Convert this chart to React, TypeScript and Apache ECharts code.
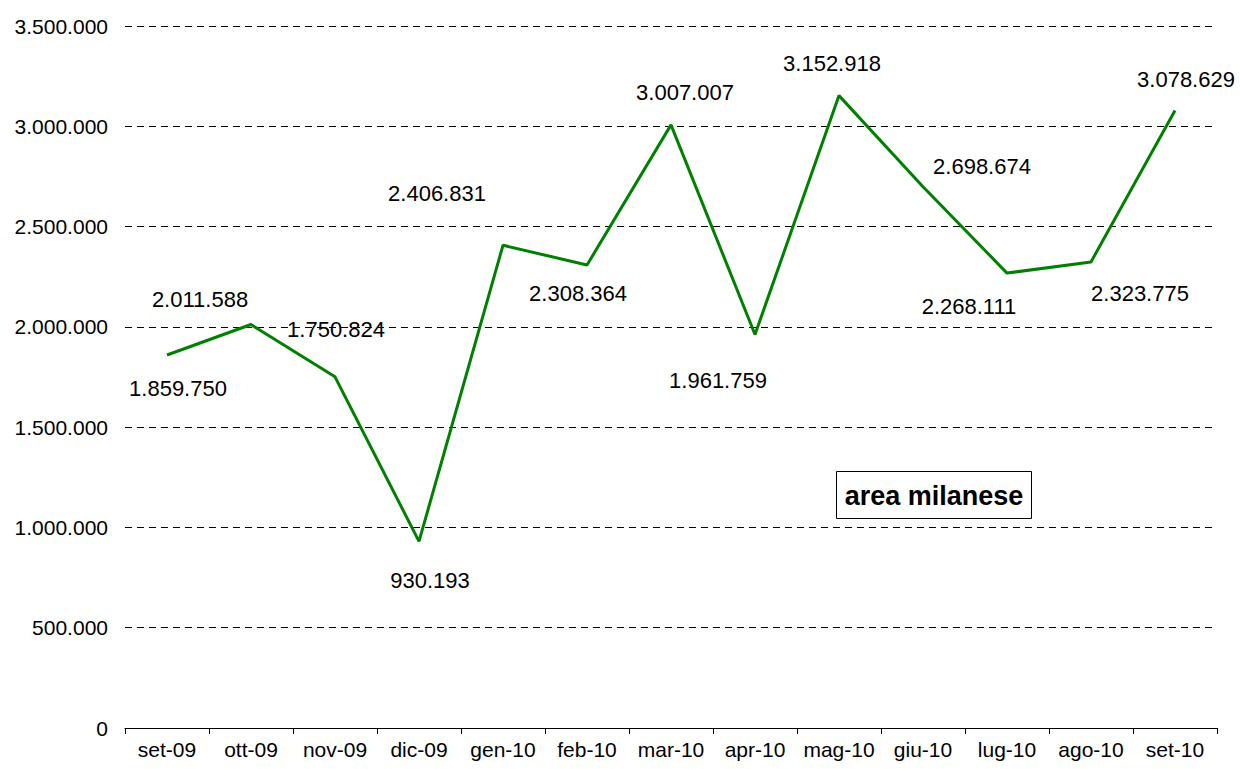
import React, { useEffect, useRef } from "react";
import * as echarts from "echarts";

const categories = ["set-09", "ott-09", "nov-09", "dic-09", "gen-10", "feb-10", "mar-10", "apr-10", "mag-10", "giu-10", "lug-10", "ago-10", "set-10"];
const values = [1859750, 2011588, 1750824, 930193, 2406831, 2308364, 3007007, 1961759, 3152918, 2698674, 2268111, 2323775, 3078629];
const labelOffsets: [number, number][] = [
  [11, 34], [-51, -25], [1, -47], [11, 39], [-66, -52], [-9, 28], [14, -32],
  [-37, 46], [-7, -32], [59, -20], [-38, 33], [49, 32], [11, -31],
];
const legendTitle = "area milanese";

const fmt = (v: number) => v.toLocaleString("de-DE");
const FONT = "'Liberation Sans', Arial, sans-serif";

export default function App() {
  const ref = useRef<HTMLDivElement>(null);
  useEffect(() => {
    if (!ref.current) return;
    const chart = echarts.init(ref.current, undefined, { renderer: "svg" });
    chart.setOption({
      animation: false,
      backgroundColor: "#ffffff",
      textStyle: { fontFamily: FONT },
      grid: { left: 125, right: 23, top: 26, bottom: 41, containLabel: false },
      xAxis: {
        type: "category",
        data: categories,
        boundaryGap: true,
        axisLine: { show: true, lineStyle: { color: "#000", width: 1 } },
        axisTick: { show: true, length: 6, lineStyle: { color: "#000" } },
        axisLabel: { color: "#000", fontSize: 21, fontFamily: FONT, margin: 11, interval: 0 },
        splitLine: { show: false },
      },
      yAxis: {
        type: "value",
        min: 0,
        max: 3500000,
        interval: 500000,
        axisLine: { show: false },
        axisTick: { show: false },
        axisLabel: { color: "#000", fontSize: 21, fontFamily: FONT, margin: 17, formatter: (v: number) => fmt(v) },
        splitLine: { show: true, lineStyle: { color: "#000", width: 1, type: [7, 5] } },
      },
      series: [
        {
          type: "line",
          data: values.map((v, i) => ({
            value: v,
            label: { offset: labelOffsets[i] },
          })),
          symbol: "circle",
          symbolSize: 1,
          itemStyle: { color: "rgba(0,0,0,0)" },
          lineStyle: { color: "#008000", width: 3 },
          label: {
            show: true,
            position: "inside",
            color: "#000",
            fontSize: 22,
            fontFamily: FONT,
            formatter: (p: any) => fmt(p.value),
          },
          z: 3,
        },
      ],
      graphic: [
        {
          type: "group",
          left: 836,
          top: 471,
          children: [
            { type: "rect", shape: { x: 0, y: 0, width: 195, height: 47 }, style: { fill: "#fff", stroke: "#000", lineWidth: 1 } },
            {
              type: "text",
              x: 97.5,
              y: 24,
              style: { text: legendTitle, fontSize: 27, fontWeight: "bold", fontFamily: FONT, fill: "#000", align: "center", verticalAlign: "middle" },
            },
          ],
        },
      ],
    });
    return () => chart.dispose();
  }, []);
  return <div ref={ref} style={{ position: "fixed", left: 0, top: 0, width: 1240, height: 769 }} />;
}
